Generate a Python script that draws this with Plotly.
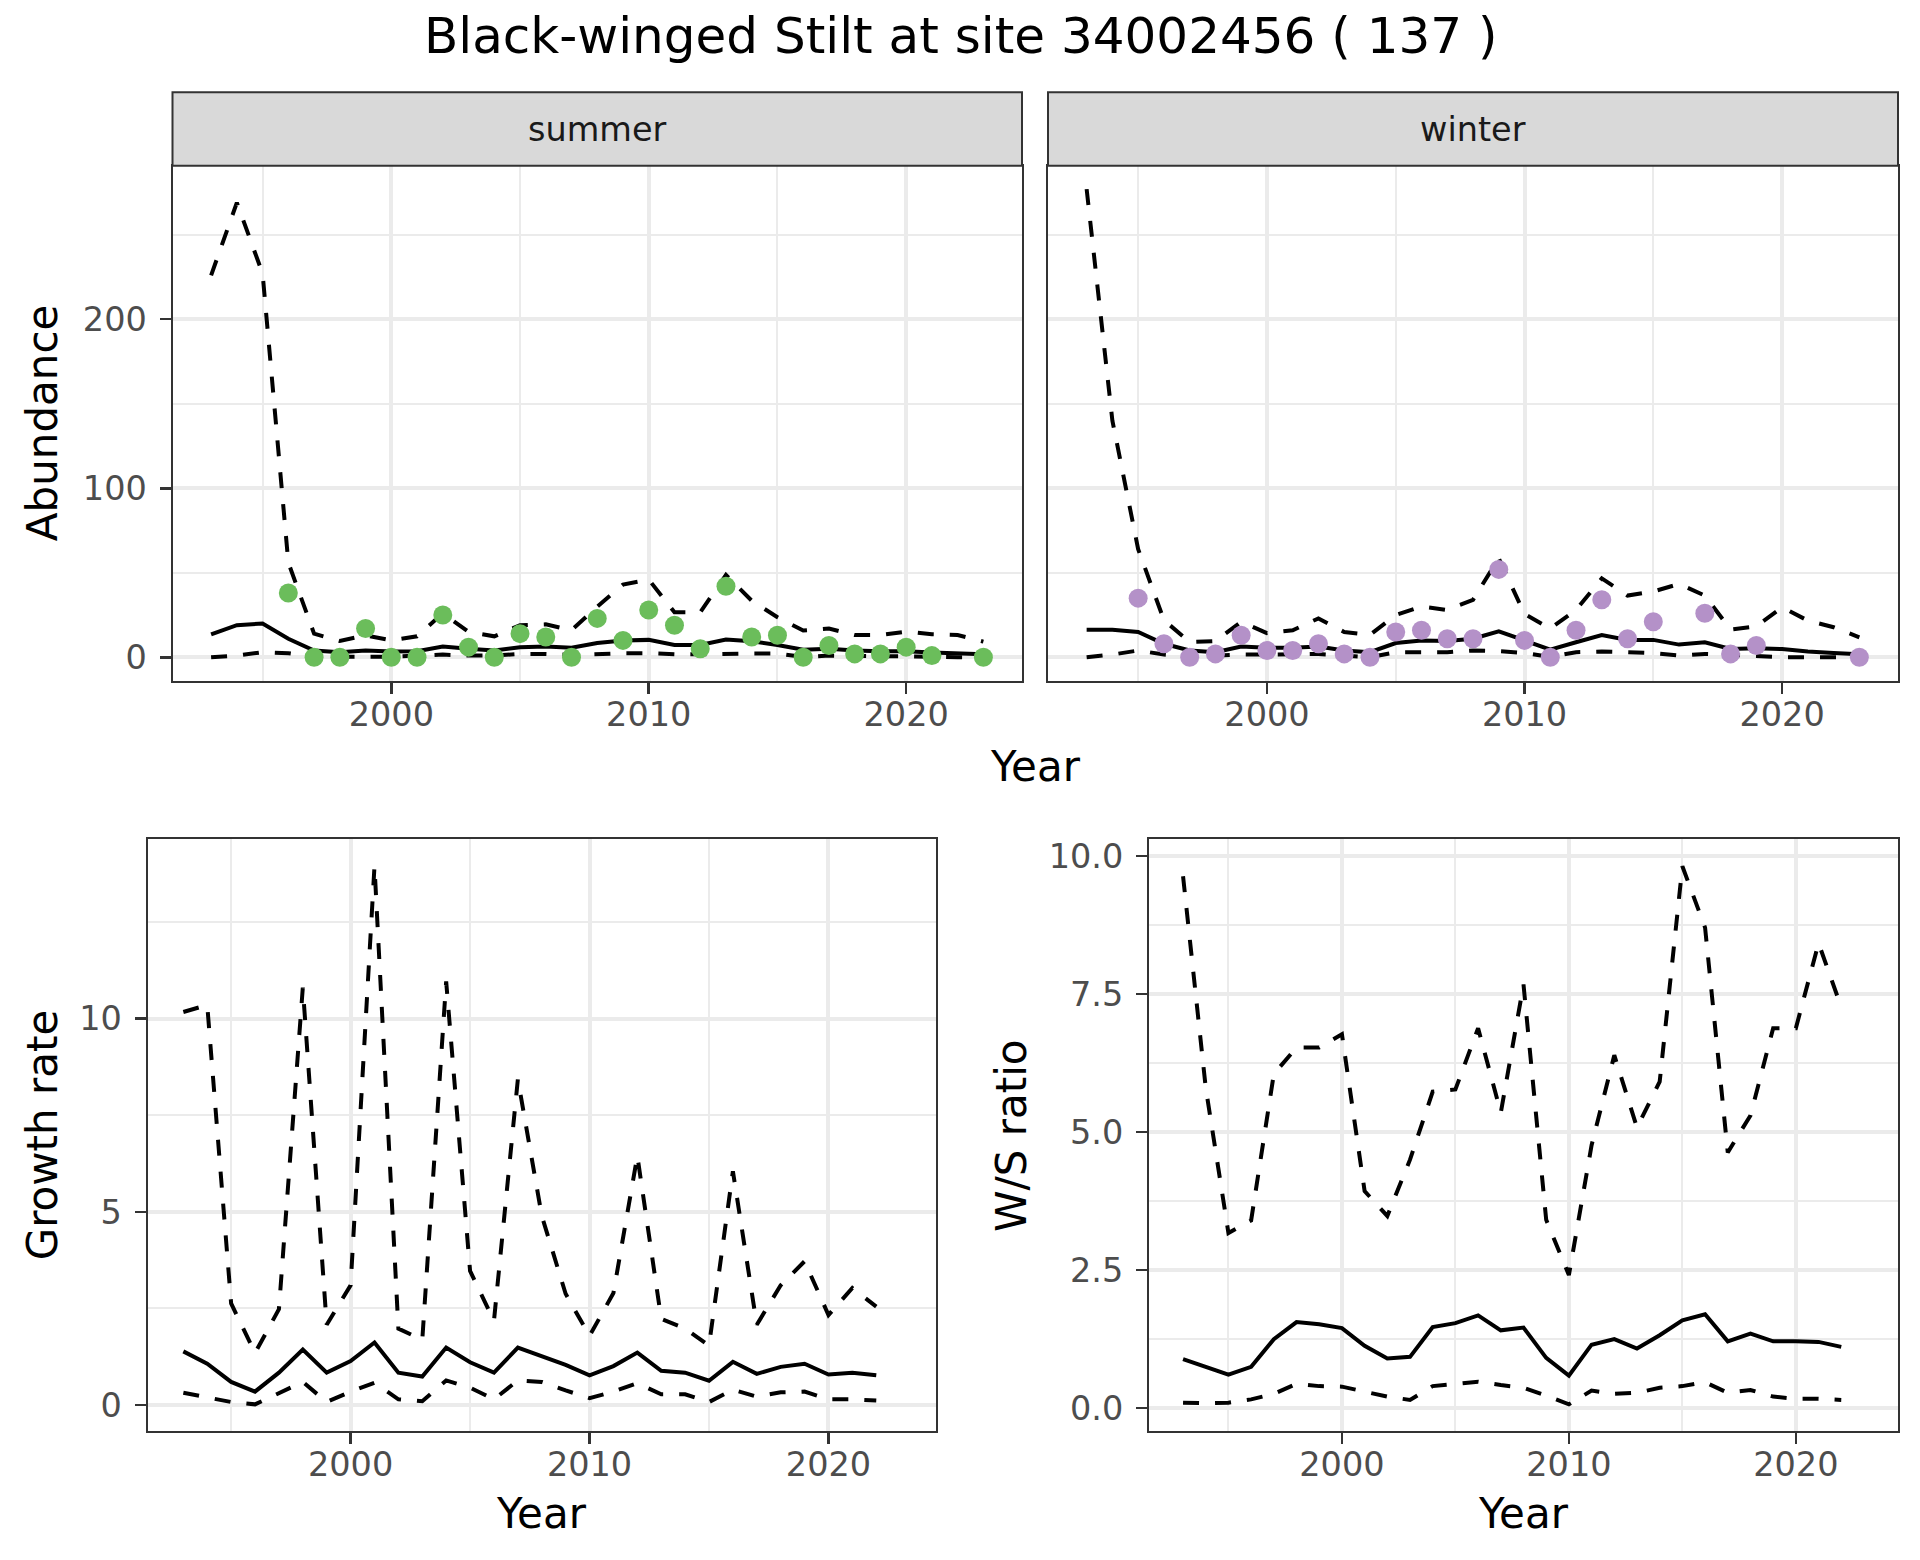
import plotly.graph_objects as go

# ---------------- data ----------------
years_ab = list(range(1993, 2024))
years_gr = list(range(1993, 2023))

summer_mean = [13.5, 19, 20, 11, 4, 3, 4, 3.4, 3.6, 6.4, 5, 4, 6, 6.4, 5.6, 8.5,
               9.9, 10.3, 7.3, 7.3, 10.5, 9.5, 7.3, 4.5, 5, 4, 3.6, 3.6, 2.8, 2.2, 1.8]
summer_upper = [226, 269, 227, 56, 14, 9.6, 13, 10, 12.4, 26, 15, 12.4, 19, 19.5, 16, 30,
                43, 46, 26.6, 26.6, 48.7, 33.5, 23.7, 15.8, 17, 13.2, 13.2, 15.2, 13.6, 13.2, 9.3]
summer_lower = [0, 1, 3, 2.4, 0.2, 0.2, 0.2, 0.4, 1, 1.6, 1, 1, 2, 2, 1.4, 2,
                2.4, 2.4, 1.8, 1.8, 2.2, 2.2, 2.2, 0.2, 1, 0.6, 0.6, 0.6, 0.2, 0, 0]
summer_obs = [None, None, None, 38, 0, 0, 17, 0, 0, 25, 6, 0, 14, 12, 0, 23,
              10, 28, 19, 5, 42, 12, 13, 0, 7, 2, 2, 6, 1, None, 0]

winter_mean = [16.3, 16.3, 15, 8, 4, 3, 6.4, 5.6, 5.6, 6.4, 4, 3, 8.4, 10, 9.6, 11,
               15.4, 9.9, 4.5, 8.9, 13.2, 10.3, 10.3, 7.5, 8.9, 4.9, 5.3, 4.9, 3.4, 2.6, 1.8]
winter_upper = [277, 140, 64, 22, 9, 9.6, 21, 14.3, 16, 23, 15, 13.3, 25, 30, 28, 34,
                58.6, 25.6, 17, 28, 46.7, 36.5, 38.9, 43.4, 36.5, 16.4, 18.3, 29.6, 21.7, 17.8, 11.8]
winter_lower = [0, 1.6, 4, 1.6, 0.4, 1, 1.6, 1.6, 1.6, 2, 1, 0, 3, 3, 3, 4,
                3.6, 2.6, 0.2, 3, 3.4, 3, 2.4, 1, 2, 1.4, 0.6, 0, 0, 0, 0]
winter_obs = [None, None, 35, 8, 0, 2, 13, 4, 4, 8, 2, 0, 15, 16, 11, 11,
              52, 10, 0, 16, 34, 11, 21, None, 26, 2, 7, None, None, None, 0]

growth_mean = [1.39, 1.07, 0.6, 0.35, 0.84, 1.44, 0.84, 1.14, 1.62, 0.84, 0.74, 1.49, 1.11, 0.84, 1.49,
               1.27, 1.04, 0.77, 1.01, 1.36, 0.89, 0.84, 0.63, 1.12, 0.81, 0.99, 1.07, 0.79, 0.84, 0.77]
growth_upper = [10.17, 10.35, 2.63, 1.35, 2.48, 10.8, 2.08, 3.1, 13.94, 1.98, 1.69, 10.96, 3.47, 2.18, 8.43,
                4.9, 2.88, 1.79, 2.9, 6.45, 2.23, 1.98, 1.54, 6.05, 2.08, 3.1, 3.72, 2.33, 3.03, 2.55]
growth_lower = [0.32, 0.2, 0.08, 0.02, 0.3, 0.6, 0.08, 0.35, 0.58, 0.15, 0.1, 0.64, 0.45, 0.15, 0.64,
                0.6, 0.38, 0.18, 0.35, 0.57, 0.28, 0.28, 0.08, 0.4, 0.22, 0.33, 0.35, 0.15, 0.15, 0.12]

ws_mean = [0.89, 0.75, 0.61, 0.75, 1.25, 1.56, 1.52, 1.45, 1.13, 0.9, 0.93, 1.47, 1.54, 1.68, 1.41,
           1.46, 0.91, 0.59, 1.15, 1.25, 1.08, 1.32, 1.59, 1.70, 1.21, 1.35, 1.21, 1.21, 1.2, 1.11]
ws_upper = [9.63, 5.8, 3.17, 3.4, 6.05, 6.53, 6.53, 6.77, 3.93, 3.48, 4.5, 5.73, 5.77, 6.88, 5.35,
            7.67, 3.41, 2.41, 4.76, 6.39, 5.08, 5.91, 9.81, 8.7, 4.63, 5.3, 6.88, 6.88, 8.42, 7.26]
ws_lower = [0.1, 0.09, 0.1, 0.16, 0.26, 0.44, 0.4, 0.39, 0.3, 0.21, 0.15, 0.4, 0.44, 0.48, 0.42,
            0.37, 0.23, 0.07, 0.32, 0.26, 0.28, 0.37, 0.4, 0.47, 0.28, 0.33, 0.21, 0.17, 0.17, 0.15]

title_text = "Black-winged Stilt at site 34002456 ( 137 )"
facet_labels = ["summer", "winter"]
x_ticks = [2000, 2010, 2020]
x_minor = [1995, 2005, 2015]
ab_ticks = [0, 100, 200]
ab_minor = [50, 150, 250]
gr_ticks = [0, 5, 10]
gr_minor = [2.5, 7.5, 12.5]
ws_ticks = [0, 2.5, 5, 7.5, 10]
ws_ticklabels = ["0.0", "2.5", "5.0", "7.5", "10.0"]
ws_minor = [1.25, 3.75, 6.25, 8.75]

# ---------------- layout helpers ----------------
W, H = 1920, 1560
FONT = "DejaVu Sans"


def fx(px):
    return px / W


def fy(py):
    return 1 - py / H


def expand(*series):
    vals = [v for s in series for v in s if v is not None]
    lo, hi = min(vals), max(vals)
    pad = 0.05 * (hi - lo)
    return [lo - pad, hi + pad]


x_range = [1993 - 0.05 * 30, 2023 + 0.05 * 30]
ab_range = expand(summer_upper, summer_lower, winter_upper, winter_lower, summer_obs, winter_obs)
gr_range = expand(growth_upper, growth_lower, growth_mean)
ws_range = expand(ws_upper, ws_lower, ws_mean)

GRID = "#EBEBEB"
DARK = "#333333"


def axis(rng, dom, tickvals, minorvals, ticktext=None, labels=True, ticks=True, anchor=None, standoff=0):
    d = dict(
        domain=dom, range=rng, tickmode="array", tickvals=tickvals,
        showgrid=True, gridcolor=GRID, gridwidth=4,
        minor=dict(tickmode="array", tickvals=minorvals, showgrid=True,
                   gridcolor=GRID, gridwidth=2, ticks=""),
        zeroline=False, showline=True, linecolor=DARK, linewidth=2, mirror=True,
        ticks="outside" if ticks else "", ticklen=11, tickwidth=2.5, tickcolor=DARK,
        tickfont=dict(family=FONT, size=33.5, color="#4D4D4D"),
        showticklabels=labels, fixedrange=True, layer="below traces",
        ticklabelstandoff=standoff,
    )
    if ticktext is not None:
        d["ticktext"] = ticktext
    if anchor:
        d["anchor"] = anchor
    return d


# pixel boxes of panels (screen pixels)
top_y = (163.0, 679.0)
summer_x = (172.5, 1022.0)
winter_x = (1048.0, 1898.0)
bot_y = (838.0, 1431.0)
growth_x = (147.5, 936.0)
ws_x = (1149.0, 1898.0)

fig = go.Figure()

dash = "16px,16px"
LW = 4


def add_band(xs, up, mid, lo, xa, ya):
    fig.add_trace(go.Scatter(x=xs, y=up, mode="lines", line=dict(color="black", width=LW, dash=dash),
                             xaxis=xa, yaxis=ya, showlegend=False, hoverinfo="skip"))
    fig.add_trace(go.Scatter(x=xs, y=mid, mode="lines", line=dict(color="black", width=LW),
                             xaxis=xa, yaxis=ya, showlegend=False, hoverinfo="skip"))
    fig.add_trace(go.Scatter(x=xs, y=lo, mode="lines", line=dict(color="black", width=LW, dash=dash),
                             xaxis=xa, yaxis=ya, showlegend=False, hoverinfo="skip"))


add_band(years_ab, summer_upper, summer_mean, summer_lower, "x", "y")
fig.add_trace(go.Scatter(x=years_ab, y=summer_obs, mode="markers",
                         marker=dict(color="#6BBD5B", size=19, line=dict(width=0)),
                         xaxis="x", yaxis="y", showlegend=False))
add_band(years_ab, winter_upper, winter_mean, winter_lower, "x2", "y2")
fig.add_trace(go.Scatter(x=years_ab, y=winter_obs, mode="markers",
                         marker=dict(color="#B491C8", size=19, line=dict(width=0)),
                         xaxis="x2", yaxis="y2", showlegend=False))
add_band(years_gr, growth_upper, growth_mean, growth_lower, "x3", "y3")
add_band(years_gr, ws_upper, ws_mean, ws_lower, "x4", "y4")

XS = -8   # x tick labels closer to axis
YS = 6    # y tick labels farther from axis

fig.update_layout(
    width=W, height=H, autosize=False,
    margin=dict(l=0, r=0, t=0, b=0),
    paper_bgcolor="white", plot_bgcolor="white",
    font=dict(family=FONT, color="black"),
    xaxis=axis(x_range, [fx(summer_x[0]), fx(summer_x[1])], x_ticks, x_minor, anchor="y", standoff=XS),
    yaxis=axis(ab_range, [fy(top_y[1]), fy(top_y[0])], ab_ticks, ab_minor, anchor="x", standoff=YS),
    xaxis2=axis(x_range, [fx(winter_x[0]), fx(winter_x[1])], x_ticks, x_minor, anchor="y2", standoff=XS),
    yaxis2=axis(ab_range, [fy(top_y[1]), fy(top_y[0])], ab_ticks, ab_minor, labels=False, ticks=False, anchor="x2"),
    xaxis3=axis(x_range, [fx(growth_x[0]), fx(growth_x[1])], x_ticks, x_minor, anchor="y3", standoff=XS),
    yaxis3=axis(gr_range, [fy(bot_y[1]), fy(bot_y[0])], gr_ticks, gr_minor, anchor="x3", standoff=YS),
    xaxis4=axis(x_range, [fx(ws_x[0]), fx(ws_x[1])], x_ticks, x_minor, anchor="y4", standoff=XS),
    yaxis4=axis(ws_range, [fy(bot_y[1]), fy(bot_y[0])], ws_ticks, ws_minor, ticktext=ws_ticklabels,
                anchor="x4", standoff=YS),
)

# facet strips
strip_top = 89.5
for lab, (x0, x1) in zip(facet_labels, [summer_x, winter_x]):
    fig.add_shape(type="rect", xref="paper", yref="paper",
                  x0=fx(x0), x1=fx(x1), y0=fy(top_y[0]), y1=fy(strip_top),
                  fillcolor="#D9D9D9", line=dict(color=DARK, width=2), layer="above")
    fig.add_annotation(x=fx((x0 + x1) / 2), y=fy((strip_top + top_y[0]) / 2), xref="paper", yref="paper",
                       text=lab, showarrow=False, xanchor="center", yanchor="middle",
                       font=dict(family=FONT, size=33.5, color="#1A1A1A"))


def label(text, xpx, ypx, size=42, angle=0):
    fig.add_annotation(x=fx(xpx), y=fy(ypx), xref="paper", yref="paper", text=text,
                       showarrow=False, xanchor="center", yanchor="middle", textangle=angle,
                       font=dict(family=FONT, size=size, color="black"))


label(title_text, 961, 33.5, size=50)
label("Year", (summer_x[0] + winter_x[1]) / 2, 765)
label("Abundance", 42, sum(top_y) / 2, angle=-90)
label("Year", sum(growth_x) / 2, 1513)
label("Year", sum(ws_x) / 2, 1513)
label("Growth rate", 42, sum(bot_y) / 2, angle=-90)
label("W/S ratio", 1011.7, sum(bot_y) / 2, angle=-90)

fig.write_html(
    "out.html",
    config={"displayModeBar": False, "staticPlot": True},
    post_script="document.body.style.margin='0px';document.body.style.padding='0px';"
                "document.documentElement.style.overflow='hidden';",
)
